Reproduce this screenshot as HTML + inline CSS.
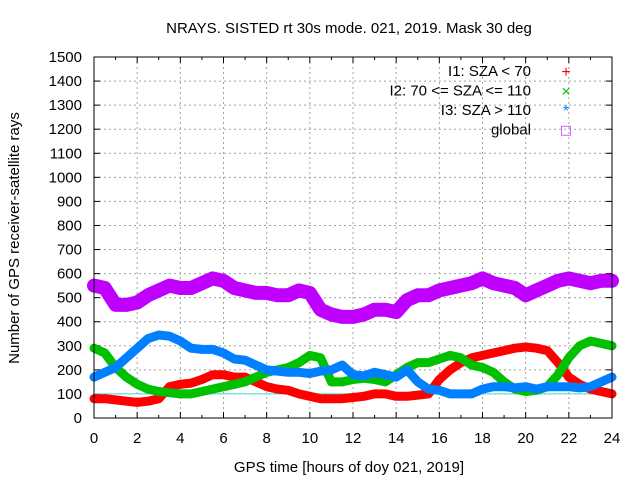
<!DOCTYPE html>
<html><head><meta charset="utf-8"><style>
body{margin:0;background:#fff}
svg{display:block;font-family:"Liberation Sans",sans-serif;font-size:15px}
</style></head><body>
<svg id="c" width="640" height="480" xmlns="http://www.w3.org/2000/svg">
<rect width="640" height="480" fill="#fff"/>
<text x="349" y="33" text-anchor="middle">NRAYS. SISTED rt 30s mode. 021, 2019. Mask 30 deg</text>
<text x="349" y="472" text-anchor="middle">GPS time [hours of doy 021, 2019]</text>
<text transform="translate(19,238) rotate(-90)" text-anchor="middle">Number of GPS receiver-satellite rays</text>
<g id="grid"></g><g id="ticks"></g><g id="series"></g>
<rect x="94" y="57" width="518" height="361" fill="none" stroke="#000"/>
<g id="legend"></g>
</svg>
<script>
const hours=[0,0.5,1,1.5,2,2.5,3,3.5,4,4.5,5,5.5,6,6.5,7,7.5,8,8.5,9,9.5,10,10.5,11,11.5,12,12.5,13,13.5,14,14.5,15,15.5,16,16.5,17,17.5,18,18.5,19,19.5,20,20.5,21,21.5,22,22.5,23,23.5,24];
const i1=[80,80,75,70,65,70,80,130,140,145,160,180,180,170,170,150,130,120,115,100,90,80,80,80,85,90,100,100,90,90,95,100,160,200,230,250,260,270,280,290,295,290,280,230,170,140,120,110,100];
const i2=[290,270,210,170,140,120,110,105,100,100,110,120,130,140,150,170,190,200,210,230,260,250,150,150,160,165,160,150,180,210,230,230,245,260,250,220,210,190,150,120,110,115,130,180,250,300,320,310,300];
const i3=[170,190,210,250,290,330,345,340,320,290,285,285,270,245,240,220,200,195,190,190,185,195,200,220,180,175,190,180,170,200,150,120,115,100,100,100,120,130,130,125,130,120,130,130,130,125,130,150,170];
const glob=[550,540,470,470,480,510,530,550,540,540,560,580,570,540,530,520,520,510,510,530,520,450,430,420,420,430,450,450,440,490,510,510,530,540,550,560,580,560,550,540,510,530,550,570,580,570,560,570,570];
const yTicks=[0,100,200,300,400,500,600,700,800,900,1000,1100,1200,1300,1400,1500];
const xTicks=[0,2,4,6,8,10,12,14,16,18,20,22,24];
const refLine=100;
const X=h=>94+h*518/24, Y=v=>418-v*361/1500;
const NS="http://www.w3.org/2000/svg";
function mk(t,a,p){const e=document.createElementNS(NS,t);for(const k in a)e.setAttribute(k,a[k]);p.appendChild(e);return e;}
const grid=document.getElementById('grid'),ticks=document.getElementById('ticks');
yTicks.forEach(v=>{
 if(v>0&&v<1500){const g=mk('line',{x1:94,x2:612,y1:Y(v),y2:Y(v),stroke:'#a0a0a0','stroke-dasharray':'2,3'},grid);
 
 }
 mk('line',{x1:94,x2:100,y1:Y(v),y2:Y(v),stroke:'#000'},ticks);
 mk('line',{x1:606,x2:612,y1:Y(v),y2:Y(v),stroke:'#000'},ticks);
 const t=mk('text',{x:82,y:Y(v)+5,'text-anchor':'end'},ticks);t.textContent=v;
 
 
});
for(let h=0;h<=24;h++){
 const major=h%2==0;
 mk('line',{x1:X(h),x2:X(h),y1:418,y2:major?412:415,stroke:'#000'},ticks);
 mk('line',{x1:X(h),x2:X(h),y1:57,y2:major?63:60,stroke:'#000'},ticks);
}
xTicks.forEach(h=>{
 if(h>0&&h<24){const g=mk('line',{x1:X(h),x2:X(h),y1:57,y2:418,stroke:'#a0a0a0','stroke-dasharray':'2,3'},grid);
 
 }
 const t=mk('text',{x:X(h),y:443,'text-anchor':'middle'},ticks);t.textContent=h;
 
 
});
const ser=document.getElementById('series');
const rl=mk('line',{x1:94,x2:612,y1:Y(refLine),y2:Y(refLine),stroke:'#40e0e0','stroke-width':1},ser);


const defs=[['i1-series',i1,'#ff0000'],['i2-series',i2,'#00c000'],['i3-series',i3,'#0080ff'],['global-series',glob,'#c000ff']];
defs.forEach(([n,d,c])=>{
 const pts=hours.map((h,i)=>X(h).toFixed(1)+','+Y(d[i]).toFixed(1)).join(' ');
 const p=mk('polyline',{points:pts,fill:'none',stroke:c,'stroke-width':n=='global-series'?14:9,'stroke-linejoin':'round','stroke-linecap':'round'},ser);
 
 
});
const lg=document.getElementById('legend');
const items=[['I1: SZA < 70','#ff0000','+'],['I2: 70 <= SZA <= 110','#00c000','×'],['I3: SZA > 110','#0080ff','*'],['global','#c000ff','□']];
items.forEach(([t,c,m],i)=>{
 const y=76+i*19.5;
 const tx=mk('text',{x:531,y:y,'text-anchor':'end'},lg);tx.textContent=t;
 
 
 const mm=mk('text',{x:566,y:y+1,'text-anchor':'middle',fill:c,'font-size':'16'},lg);mm.textContent=m;
 
 
});
</script>
</body></html>
